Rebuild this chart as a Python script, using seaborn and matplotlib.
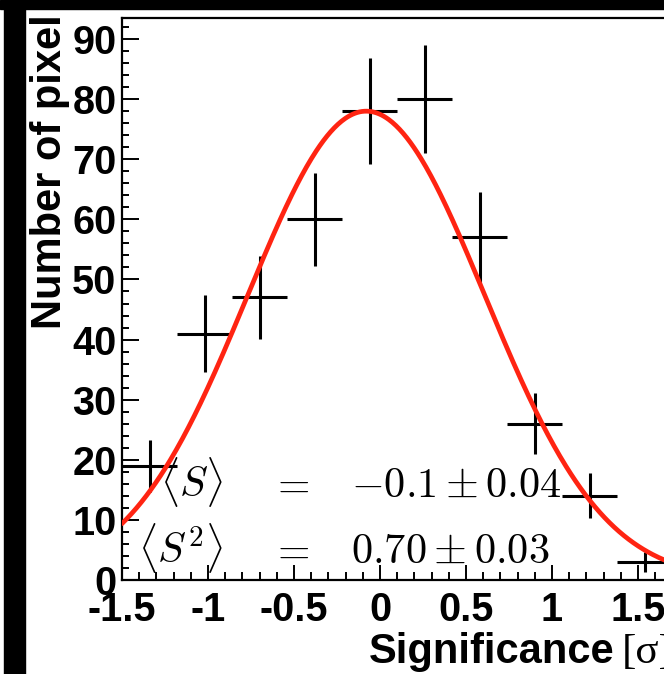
import numpy as np
import pandas as pd
import matplotlib
matplotlib.use("Agg")
import matplotlib.pyplot as plt
import seaborn as sns
from matplotlib.patches import Rectangle
from matplotlib.ticker import MultipleLocator

# histogram of pixel significances (bin centres, counts)
bin_centers = [-1.34, -1.02, -0.70, -0.38, -0.06, 0.26, 0.58, 0.90, 1.22, 1.54]
bin_half_width = 0.16
counts = [19, 41, 47, 60, 78, 80, 57, 26, 14, 3]

# gaussian fit drawn in red
fit_amplitude = 78.0
fit_mean = -0.08
fit_sigma = 0.69

x_ticks = [-1.5, -1, -0.5, 0, 0.5, 1, 1.5]
x_tick_labels = ["-1.5", "-1", "-0.5", "0", "0.5", "1", "1.5"]
y_ticks = [0, 10, 20, 30, 40, 50, 60, 70, 80, 90]
y_tick_labels = ["0", "10", "20", "30", "40", "50", "60", "70", "80", "90"]

row_names = [r"$\langle S\rangle$", r"$\langle S^2\rangle$"]
row_values = [r"$-0.1\pm0.04$", r"$0.70\pm0.03$"]

sns.set_style("white")
plt.rcParams["font.family"] = ["Liberation Sans", "DejaVu Sans"]
plt.rcParams["mathtext.fontset"] = "cm"
plt.rcParams["axes.unicode_minus"] = False
for key in ["text.color", "axes.labelcolor", "xtick.color", "ytick.color",
            "axes.edgecolor"]:
    plt.rcParams[key] = "black"

W, H = 664, 674
fig = plt.figure(figsize=(W / 100, H / 100), dpi=100, facecolor="white")

# black frame remnants along the top and left edge
fig.patches.append(Rectangle((0, 1 - 9 / H), 1, 9 / H, transform=fig.transFigure,
                             color="black", zorder=0))
fig.patches.append(Rectangle((4 / W, 0), 21 / W, 1, transform=fig.transFigure,
                             color="black", zorder=0))

x0, x1 = -1.5, 2.0
px_per_x = 172.0
y0, y1 = 0, 93.5
ax = fig.add_axes([122 / W, (H - 580) / H, (x1 - x0) * px_per_x / W, (580 - 18) / H])
ax.set_xlim(x0, x1)
ax.set_ylim(y0, y1)

df = pd.DataFrame({"x": bin_centers, "n": counts})
df["err"] = np.sqrt(df["n"])
ax.errorbar(df["x"], df["n"], xerr=bin_half_width, yerr=df["err"], fmt="none",
            ecolor="black", elinewidth=2.2, capsize=0, zorder=3)

xs = np.linspace(x0, x1, 500)
fit = pd.DataFrame({"x": xs,
                    "y": fit_amplitude * np.exp(-0.5 * ((xs - fit_mean) / fit_sigma) ** 2)})
sns.lineplot(data=fit, x="x", y="y", ax=ax, color="#ff2412", linewidth=3.4, zorder=4)

for sp in ax.spines.values():
    sp.set_linewidth(1.6)
    sp.set_color("black")

ax.set_xticks(x_ticks)
ax.set_xticklabels(x_tick_labels)
ax.set_yticks(y_ticks)
ax.set_yticklabels(y_tick_labels)
ax.xaxis.set_minor_locator(MultipleLocator(0.1))
ax.yaxis.set_minor_locator(MultipleLocator(2))
ax.tick_params(axis="x", which="major", direction="in", length=11, width=1.4, pad=8,
               labelsize=28.5, bottom=True, top=False, colors="black")
ax.tick_params(axis="x", which="minor", direction="in", length=5.5, width=1.4,
               bottom=True, top=False, colors="black")
ax.tick_params(axis="y", which="major", direction="in", length=12, width=1.4, pad=4,
               labelsize=28.5, left=True, right=False, colors="black")
ax.tick_params(axis="y", which="minor", direction="in", length=5, width=1.4,
               left=True, right=False, colors="black")
for lab in ax.get_xticklabels() + ax.get_yticklabels():
    lab.set_fontweight("bold")
ax.set_xlabel("")
ax.set_ylabel("")

# axis titles, ROOT style (right/top aligned)
fig.text(614 / W, (H - 663) / H, "Significance", ha="right", va="baseline",
         fontsize=30, fontweight="bold", color="black")
fig.text(622 / W, (H - 663) / H, "[σ]", ha="left", va="baseline",
         fontsize=31, family=["Liberation Serif", "DejaVu Serif"], color="black")
fig.text(30 / W, 1 - 14 / H, "Number of pixel", rotation=90, ha="left", va="top",
         fontsize=30, fontweight="bold", color="black")

# fit results
baselines = [13.8, 2.8]
for name, value, yb in zip(row_names, row_values, baselines):
    ax.text(-0.913, yb, name, ha="right", va="baseline", fontsize=30, zorder=5,
            color="black")
    ax.text(-0.523, yb, r"$=$", ha="center", va="baseline", fontsize=30, zorder=5,
            color="black")
    ax.text(-0.17, yb, value, ha="left", va="baseline", fontsize=30.5, zorder=5,
            color="black")

fig.savefig("out.png", dpi=100, facecolor="white")
